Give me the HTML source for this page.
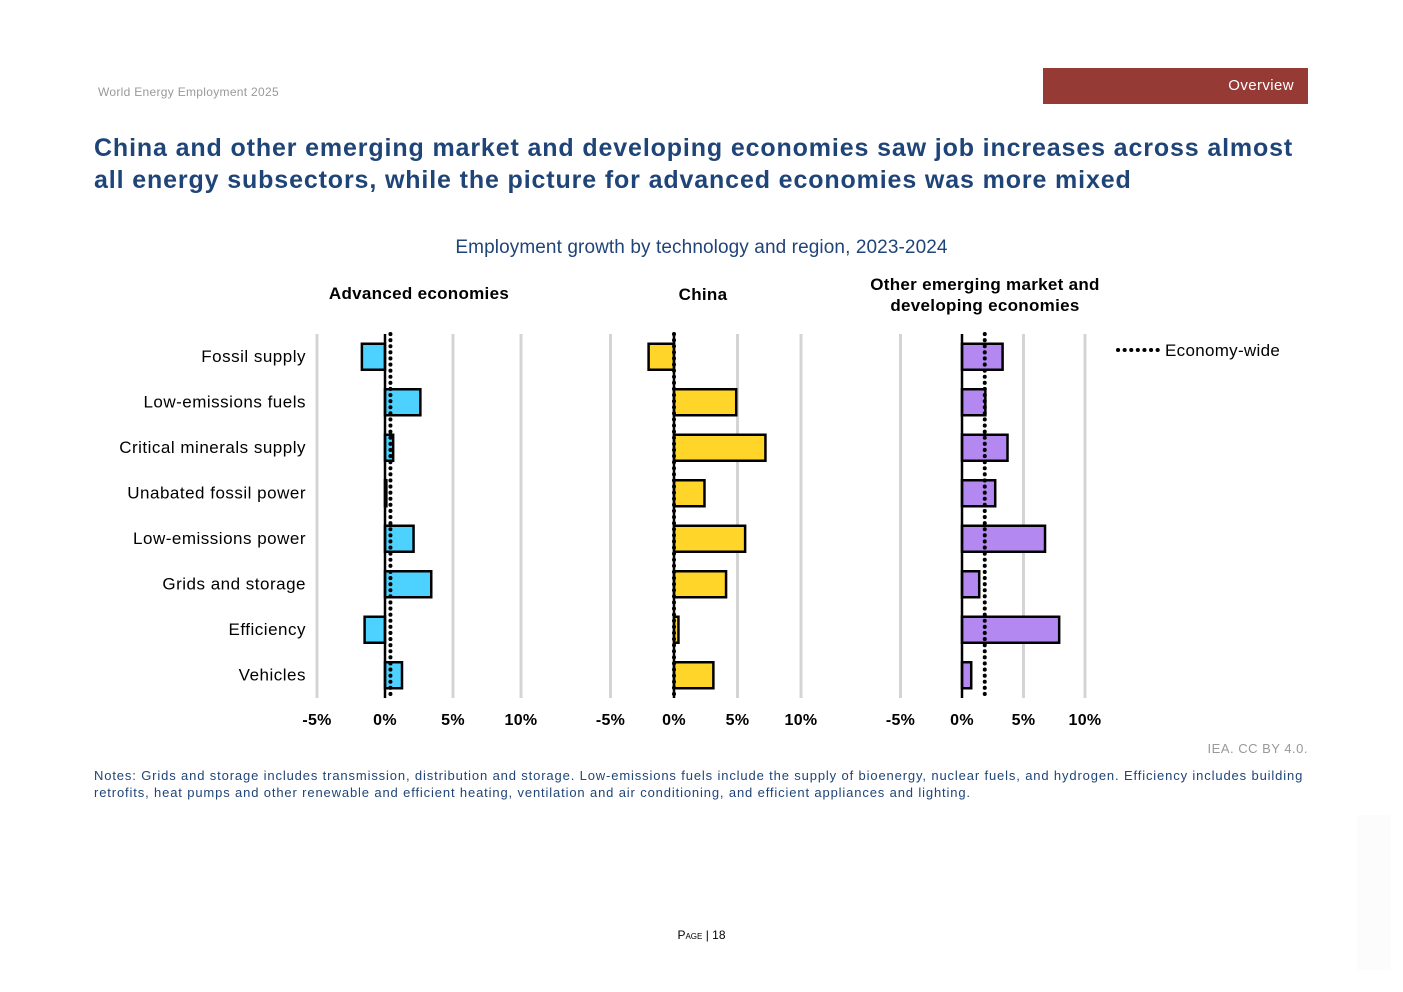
<!DOCTYPE html>
<html><head><meta charset="utf-8"><style>
body{margin:0;background:#fff;font-family:"Liberation Sans",Arial,sans-serif;}
#wrap{position:relative;width:1403px;height:992px;overflow:hidden;}
.abs{position:absolute;white-space:nowrap;}
</style></head><body>
<div id="wrap">
<div class="abs" style="left:98px;top:85px;font-size:12px;color:#999;letter-spacing:0.3px;">World Energy Employment 2025</div>
<div class="abs" style="left:1043px;top:68px;width:265px;height:36px;background:#963a36;color:#fff;font-size:15px;line-height:36px;text-align:right;box-sizing:border-box;padding-right:14px;letter-spacing:0.4px;">Overview</div>
<div class="abs" style="left:94px;top:132px;font-size:25px;font-weight:bold;color:#1f4478;line-height:32px;letter-spacing:0.87px;">China and other emerging market and developing economies saw job increases across almost<br>all energy subsectors, while the picture for advanced economies was more mixed</div>
<div class="abs" style="left:0;width:1403px;top:237px;text-align:center;font-size:19px;color:#1f4478;letter-spacing:0.1px;">Employment growth by technology and region, 2023-2024</div>
<svg id="chart" width="1403" height="992" style="position:absolute;left:0;top:0;" font-family="Liberation Sans, Arial, sans-serif"></svg>
<div class="abs" style="right:95px;top:741px;font-size:13px;color:#999;letter-spacing:0.5px;">IEA. CC BY 4.0.</div>
<div class="abs" style="left:94px;top:767px;font-size:13px;line-height:17px;color:#1f4478;letter-spacing:0.86px;">Notes: Grids and storage includes transmission, distribution and storage. Low-emissions fuels include the supply of bioenergy, nuclear fuels, and hydrogen. Efficiency includes building<br>retrofits, heat pumps and other renewable and efficient heating, ventilation and air conditioning, and efficient appliances and lighting.</div>
<div class="abs" style="left:0;width:1403px;text-align:center;top:928px;font-size:12px;color:#000;"><span style="font-variant:small-caps">Page</span> | 18</div>
<div class="abs" style="left:1357px;top:815px;width:34px;height:155px;background:#fcfcfc;"></div>
</div>
<script>
const categories=["Fossil supply","Low-emissions fuels","Critical minerals supply","Unabated fossil power","Low-emissions power","Grids and storage","Efficiency","Vehicles"];
const advancedValues=[-1.7,2.6,0.6,0.1,2.1,3.4,-1.5,1.25];
const chinaValues=[-2.0,4.9,7.2,2.4,5.6,4.1,0.35,3.1];
const emdeValues=[3.3,1.9,3.7,2.7,6.75,1.4,7.9,0.75];
const economyWide=[0.4,0,1.85];
const tickValues=[-5,0,5,10];
const tickLabels=["-5%","0%","5%","10%"];
const panelTitles=[["Advanced economies"],["China"],["Other emerging market and","developing economies"]];

const NS="http://www.w3.org/2000/svg";
const svg=document.getElementById('chart');
function mk(t,a){const e=document.createElementNS(NS,t);for(const k in a)e.setAttribute(k,a[k]);svg.appendChild(e);return e;}
const panels=[{x0:385,ppu:13.6,vals:advancedValues,color:"#4dd2ff"},{x0:674,ppu:12.7,vals:chinaValues,color:"#ffd52a"},{x0:962,ppu:12.3,vals:emdeValues,color:"#b388f0"}];
const yTop=334,yBot=698,rowH=(yBot-yTop)/categories.length,barH=26;
function yc(i){return yTop+rowH*(i+0.5);}
const titleY=[[299],[300],[290,311]];
const titleCx=[419,703,985];
panels.forEach((p,pi)=>{
  const xs=v=>p.x0+v*p.ppu;
  tickValues.forEach((t,ti)=>{
    if(t!==0){const g=mk('line',{x1:xs(t),x2:xs(t),y1:yTop,y2:yBot,stroke:'#d4d4d4','stroke-width':3});
    
    }
    const tl=mk('text',{x:xs(t),y:725,'text-anchor':'middle','font-size':16,'font-weight':'bold',fill:'#000','letter-spacing':'0.3'});
    tl.textContent=tickLabels[ti];
    
    
  });
  panelTitles[pi].forEach((s,li)=>{
    const tt=mk('text',{x:titleCx[pi],y:titleY[pi][li],'text-anchor':'middle','font-size':17,'font-weight':'bold',fill:'#000','letter-spacing':'0.3'});
    tt.textContent=s;
    
    
  });
  p.vals.forEach((v,i)=>{
    const x=Math.min(xs(0),xs(v)),w=Math.abs(xs(v)-xs(0));
    const r=mk('rect',{x:x,y:yc(i)-barH/2,width:Math.max(w,1),height:barH,fill:p.color,stroke:'#000','stroke-width':2.5});
    
    
  });
  const ax=mk('line',{x1:xs(0),x2:xs(0),y1:yTop,y2:yBot,stroke:'#000','stroke-width':2.5});
  
  
  const ew=mk('line',{x1:xs(economyWide[pi]),x2:xs(economyWide[pi]),y1:yTop,y2:yBot,stroke:'#000','stroke-width':4,'stroke-dasharray':'0.1 6','stroke-linecap':'round'});
  
  
});
categories.forEach((c,i)=>{
  const t=mk('text',{x:306,y:yc(i)+5,'text-anchor':'end','font-size':17,fill:'#000','letter-spacing':'0.5'});
  t.textContent=c;
  
  
});
const lg=mk('line',{x1:1118,x2:1158,y1:350,y2:350,stroke:'#000','stroke-width':4,'stroke-dasharray':'0.1 6.5','stroke-linecap':'round'});


const lt=mk('text',{x:1165,y:356,'font-size':17,fill:'#000','letter-spacing':'0.3'});
lt.textContent="Economy-wide";


</script>
</body></html>
